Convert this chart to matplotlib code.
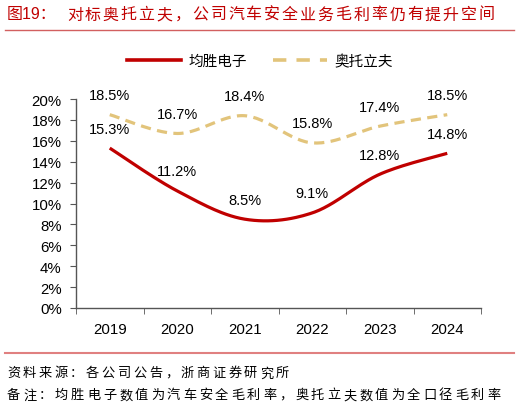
import numpy as np
import matplotlib.pyplot as plt
from matplotlib.lines import Line2D

plt.rcParams['font.family'] = ['Liberation Sans', 'Noto Sans CJK SC', 'DejaVu Sans']

years = ['2019', '2020', '2021', '2022', '2023', '2024']
joyson = [15.3, 11.2, 8.5, 9.1, 12.8, 14.8]     # 均胜电子
autoliv = [18.5, 16.7, 18.4, 15.8, 17.4, 18.5]  # 奥托立夫

title = '对标奥托立夫，公司汽车安全业务毛利率仍有提升空间'
source = '资料来源：各公司公告，浙商证券研究所'
note = '备注：均胜电子数值为汽车安全毛利率，奥托立夫数值为全口径毛利率'

red = '#C00000'
gold = '#E2C47B'

W, H = 520, 410


def smooth(xs, ys, n=30):
    # excel-like smoothed line: bezier segments through the points
    xs = np.asarray(xs, float)
    ys = np.asarray(ys, float)
    px = np.concatenate([[xs[0]], xs, [xs[-1]]])
    py = np.concatenate([[ys[0]], ys, [ys[-1]]])
    out_x, out_y = [], []
    t = np.linspace(0, 1, n)
    for i in range(1, len(xs)):
        p0 = np.array([px[i], py[i]])
        p3 = np.array([px[i + 1], py[i + 1]])
        c1 = p0 + (p3 - np.array([px[i - 1], py[i - 1]])) / 6
        c2 = p3 - (np.array([px[i + 2], py[i + 2]]) - p0) / 6
        b = ((1 - t) ** 3)[:, None] * p0 + (3 * (1 - t) ** 2 * t)[:, None] * c1 \
            + (3 * (1 - t) * t ** 2)[:, None] * c2 + (t ** 3)[:, None] * p3
        out_x.extend(b[:, 0])
        out_y.extend(b[:, 1])
    return out_x, out_y


def spaced_text(fig, x0, y, s, adv, **kw):
    # draw chinese text with wider letter spacing (pixel units)
    for i, ch in enumerate(s):
        fig.text((x0 + i * adv) / W, 1 - y / H, ch, va='center', ha='left', **kw)


fig = plt.figure(figsize=(W / 100, H / 100), dpi=100)
ax = fig.add_axes([76 / W, 1 - 309 / H, 405 / W, 209 / H])

x = np.arange(len(years))
sx, sy = smooth(x, joyson)
ax.plot(sx, sy, color=red, lw=2.3, solid_capstyle='butt')
sx, sy = smooth(x, autoliv)
ax.plot(sx, sy, color=gold, lw=2.3, dashes=(3.2, 2.0))

for xi, v in zip(x, joyson):
    ax.annotate(f'{v:.1f}%', (xi, v), xytext=(0, 9), textcoords='offset points',
                ha='center', va='bottom', fontsize=10.5)
for xi, v in zip(x, autoliv):
    ax.annotate(f'{v:.1f}%', (xi, v), xytext=(0, 9), textcoords='offset points',
                ha='center', va='bottom', fontsize=10.5)

ax.set_xlim(-0.5, len(years) - 0.5)
ax.set_ylim(0, 20)
ax.set_yticks(np.arange(0, 21, 2))
ax.set_yticklabels([f'{v}%' for v in range(0, 21, 2)], fontsize=10.8)
ax.set_xticks(x)
ax.set_xticklabels(years, fontsize=10.8)
ax.set_xticks(np.arange(-0.5, len(years), 1), minor=True)
ax.tick_params(axis='x', which='major', length=0, pad=10)
ax.tick_params(axis='x', which='minor', length=4, color='#555555')
ax.tick_params(axis='y', length=4.3, color='#555555', pad=6)
for s in ['top', 'right']:
    ax.spines[s].set_visible(False)
for s in ['left', 'bottom']:
    ax.spines[s].set_color('#555555')
    ax.spines[s].set_linewidth(1)

handles = [Line2D([], [], color=red, lw=2.6),
           Line2D([], [], color=gold, lw=2.6, dashes=(3.7, 2.8))]
fig.legend(handles, ['均胜电子', '奥托立夫'], loc='center', ncol=2,
           bbox_to_anchor=(0.5, 1 - 62 / H), frameon=False, fontsize=10.5,
           handlelength=3.7, columnspacing=1.8, handletextpad=0.5)

fig.text(7 / W, 1 - 15 / H, '图19：', color=red, fontsize=11.5, va='center', ha='left')
spaced_text(fig, 67, 15, title, 17.9, color=red, fontsize=11.5)
fig.add_artist(Line2D([5 / W, 514 / W], [1 - 31 / H] * 2, color='#D26060', lw=1))
fig.add_artist(Line2D([5 / W, 514 / W], [1 - 354 / H] * 2, color='#E08080', lw=1.5))
spaced_text(fig, 7, 374, source, 15.8, fontsize=9.5)
spaced_text(fig, 7, 396, note, 16.0, fontsize=9.5)

fig.savefig('out.png', dpi=100)
